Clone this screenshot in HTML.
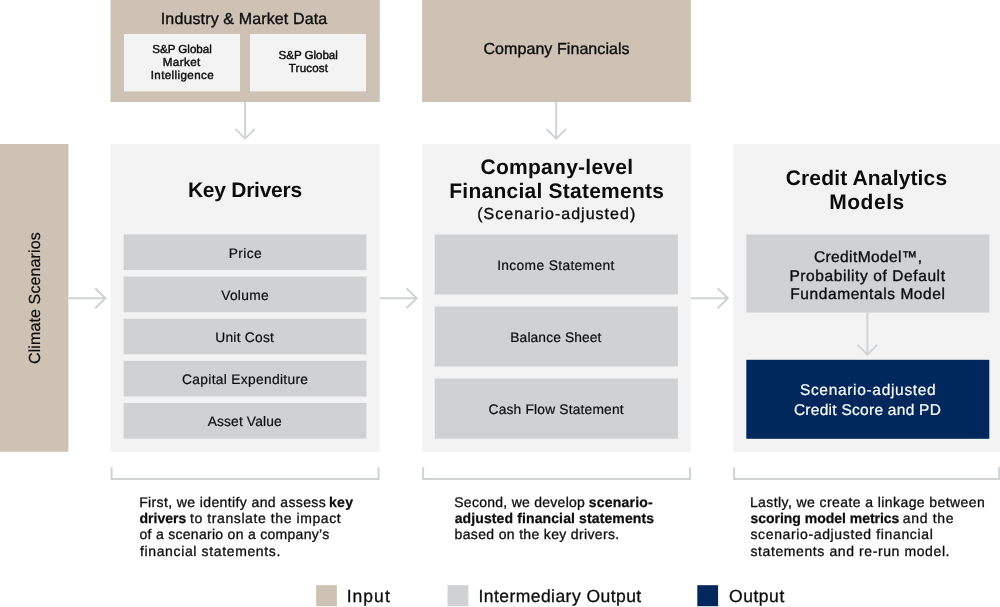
<!DOCTYPE html>
<html><head><meta charset="utf-8"><title>Climate Credit Analytics</title>
<style>
html,body{margin:0;padding:0;background:#fff;}
body{width:1000px;height:607px;position:relative;overflow:hidden;font-family:"Liberation Sans", sans-serif;color:#0c0c0c;}
.b{position:absolute;}
.t{position:absolute;white-space:nowrap;display:block;text-rendering:geometricPrecision;-webkit-text-stroke:0.3px currentColor;}
.lg{background:#f3f3f3;}
.mg{background:#d0d1d3;}
.nv{background:#00285c;}
svg{position:absolute;left:0;top:0;}
.tx{position:absolute;left:0;top:0;width:1000px;height:607px;will-change:transform;}
</style></head><body>
<svg width="1000" height="607" viewBox="0 0 1000 607" fill="none" stroke="#d0d3d6" stroke-width="2" stroke-linejoin="miter" stroke-linecap="butt">
<g stroke="none">
<rect x="0" y="144" width="68.4" height="307.8" fill="#cec2b5"/>
<rect x="110.5" y="0" width="269.3" height="102" fill="#cec2b5"/>
<rect x="124" y="34" width="116" height="57.4" fill="#f3f3f3"/>
<rect x="250" y="34" width="116" height="57.4" fill="#f3f3f3"/>
<rect x="422.1" y="0" width="268.8" height="102" fill="#cec2b5"/>
<rect x="110.5" y="144" width="269.3" height="307.8" fill="#f3f3f3"/>
<rect x="422.1" y="144" width="268.8" height="307.8" fill="#f3f3f3"/>
<rect x="733.1" y="144" width="266.9" height="307.8" fill="#f3f3f3"/>
<rect x="123.6" y="234.45" width="242.8" height="35.65" fill="#d0d1d3"/>
<rect x="123.6" y="276.58" width="242.8" height="35.65" fill="#d0d1d3"/>
<rect x="123.6" y="318.71" width="242.8" height="35.65" fill="#d0d1d3"/>
<rect x="123.6" y="360.84" width="242.8" height="35.65" fill="#d0d1d3"/>
<rect x="123.6" y="402.97" width="242.8" height="35.65" fill="#d0d1d3"/>
<rect x="434.8" y="234.5" width="243.1" height="60" fill="#d0d1d3"/>
<rect x="434.8" y="306.5" width="243.1" height="60" fill="#d0d1d3"/>
<rect x="434.8" y="378.5" width="243.1" height="60.2" fill="#d0d1d3"/>
<rect x="746.3" y="234.5" width="243" height="78.1" fill="#d0d1d3"/>
<rect x="746.3" y="359.8" width="243" height="79" fill="#00285c"/>
<rect x="316.1" y="585.2" width="20.8" height="21" fill="#cec2b5"/>
<rect x="447.5" y="585.2" width="20.9" height="21" fill="#d0d1d3"/>
<rect x="697.3" y="585.2" width="20.8" height="21" fill="#00285c"/>
</g>
<path d="M245.1 102V138.6M235.3 128.9L245.1 138.65L254.9 128.9"/>
<path d="M556.2 102V138.6M546.4 128.9L556.2 138.65L566 128.9"/>
<path d="M867.4 312.6V354.6M857.5 344.6L867.4 354.7L877.3 344.6" stroke="#d3d5d8"/>
<path d="M68.4 298.2H105.3M95.2 288.2L105.4 298.2L95.2 308.2"/>
<path d="M379.8 298.2H416.6M406.5 288.2L416.7 298.2L406.5 308.2"/>
<path d="M690.9 298.2H727.8M717.7 288.2L727.9 298.2L717.7 308.2"/>
<path d="M111.6 467.2V479.1H378.6V467.2"/>
<path d="M423.1 467.2V479.1H689.9V467.2"/>
<path d="M734.1 467.2V479.1H999.2V467.2"/>
</svg>
<div class="tx">
<span class="t" style="left:160.78px;top:12.00px;font-size:16px;line-height:16px;letter-spacing:0.136px;-webkit-text-stroke-width:0.35px;">Industry &amp; Market Data</span>
<span class="t" style="left:152.22px;top:44.00px;font-size:11.6px;line-height:11.6px;letter-spacing:-0.016px;-webkit-text-stroke-width:0.42px;">S&amp;P Global</span>
<span class="t" style="left:162.79px;top:57.00px;font-size:11.6px;line-height:11.6px;letter-spacing:0.421px;-webkit-text-stroke-width:0.42px;">Market</span>
<span class="t" style="left:150.72px;top:70.00px;font-size:11.6px;line-height:11.6px;letter-spacing:0.388px;-webkit-text-stroke-width:0.42px;">Intelligence</span>
<span class="t" style="left:278.62px;top:50.00px;font-size:11.6px;line-height:11.6px;letter-spacing:-0.062px;-webkit-text-stroke-width:0.42px;">S&amp;P Global</span>
<span class="t" style="left:288.79px;top:63.00px;font-size:11.6px;line-height:11.6px;letter-spacing:0.168px;-webkit-text-stroke-width:0.42px;">Trucost</span>
<span class="t" style="left:483.44px;top:42.00px;font-size:16px;line-height:16px;letter-spacing:0.072px;-webkit-text-stroke-width:0.35px;">Company Financials</span>
<span class="t" style="left:187.95px;top:180.00px;font-size:21px;line-height:21px;letter-spacing:-0.257px;font-weight:700;-webkit-text-stroke-width:0px;">Key Drivers</span>
<span class="t" style="left:228.64px;top:247.00px;font-size:13.8px;line-height:13.8px;letter-spacing:0.431px;-webkit-text-stroke-width:0.2px;">Price</span>
<span class="t" style="left:221.15px;top:289.00px;font-size:13.8px;line-height:13.8px;letter-spacing:0.294px;-webkit-text-stroke-width:0.2px;">Volume</span>
<span class="t" style="left:215.25px;top:331.00px;font-size:13.8px;line-height:13.8px;letter-spacing:0.238px;-webkit-text-stroke-width:0.2px;">Unit Cost</span>
<span class="t" style="left:182.00px;top:373.00px;font-size:13.8px;line-height:13.8px;letter-spacing:0.313px;-webkit-text-stroke-width:0.2px;">Capital Expenditure</span>
<span class="t" style="left:207.71px;top:415.00px;font-size:13.8px;line-height:13.8px;letter-spacing:0.132px;-webkit-text-stroke-width:0.2px;">Asset Value</span>
<span class="t" style="left:480.57px;top:157.00px;font-size:21px;line-height:21px;letter-spacing:0.262px;font-weight:700;-webkit-text-stroke-width:0px;">Company-level</span>
<span class="t" style="left:449.31px;top:181.00px;font-size:21px;line-height:21px;letter-spacing:0.240px;font-weight:700;-webkit-text-stroke-width:0px;">Financial Statements</span>
<span class="t" style="left:477.23px;top:207.00px;font-size:16px;line-height:16px;letter-spacing:1.020px;-webkit-text-stroke-width:0.35px;">(Scenario-adjusted)</span>
<span class="t" style="left:497.13px;top:259.00px;font-size:13.8px;line-height:13.8px;letter-spacing:0.349px;-webkit-text-stroke-width:0.2px;">Income Statement</span>
<span class="t" style="left:510.29px;top:331.00px;font-size:13.8px;line-height:13.8px;letter-spacing:0.116px;-webkit-text-stroke-width:0.2px;">Balance Sheet</span>
<span class="t" style="left:488.55px;top:403.00px;font-size:13.8px;line-height:13.8px;letter-spacing:0.176px;-webkit-text-stroke-width:0.2px;">Cash Flow Statement</span>
<span class="t" style="left:785.73px;top:168.00px;font-size:21px;line-height:21px;letter-spacing:0.153px;font-weight:700;-webkit-text-stroke-width:0px;">Credit Analytics</span>
<span class="t" style="left:829.18px;top:192.00px;font-size:21px;line-height:21px;letter-spacing:0.548px;font-weight:700;-webkit-text-stroke-width:0px;">Models</span>
<span class="t" style="left:813.98px;top:250.00px;font-size:15.5px;line-height:15.5px;letter-spacing:0.389px;-webkit-text-stroke-width:0.35px;">CreditModel™,</span>
<span class="t" style="left:789.42px;top:269.00px;font-size:15.5px;line-height:15.5px;letter-spacing:0.596px;-webkit-text-stroke-width:0.35px;">Probability of Default</span>
<span class="t" style="left:790.31px;top:287.00px;font-size:15.5px;line-height:15.5px;letter-spacing:0.581px;-webkit-text-stroke-width:0.35px;">Fundamentals Model</span>
<span class="t" style="left:799.93px;top:383.00px;font-size:15.5px;line-height:15.5px;letter-spacing:0.678px;color:#ffffff;-webkit-text-stroke-width:0.2px;">Scenario-adjusted</span>
<span class="t" style="left:793.90px;top:403.00px;font-size:15.5px;line-height:15.5px;letter-spacing:0.270px;color:#ffffff;-webkit-text-stroke-width:0.2px;">Credit Score and PD</span>
<span class="t" style="left:139.13px;top:495.00px;font-size:14px;line-height:14px;letter-spacing:0.385px;">First, we identify and assess</span>
<span class="t" style="left:328.98px;top:495.00px;font-size:14px;line-height:14px;letter-spacing:0.328px;font-weight:700;-webkit-text-stroke-width:0.25px;">key</span>
<span class="t" style="left:139.49px;top:511.00px;font-size:14px;line-height:14px;letter-spacing:0.010px;font-weight:700;-webkit-text-stroke-width:0.25px;">drivers</span>
<span class="t" style="left:190.01px;top:511.00px;font-size:14px;line-height:14px;letter-spacing:0.588px;">to translate the impact</span>
<span class="t" style="left:139.53px;top:527.00px;font-size:14px;line-height:14px;letter-spacing:0.290px;">of a scenario on a company’s</span>
<span class="t" style="left:140.01px;top:544.00px;font-size:14px;line-height:14px;letter-spacing:0.636px;">financial statements.</span>
<span class="t" style="left:454.28px;top:495.00px;font-size:14px;line-height:14px;letter-spacing:0.265px;">Second, we develop</span>
<span class="t" style="left:588.79px;top:495.00px;font-size:14px;line-height:14px;letter-spacing:0.219px;font-weight:700;-webkit-text-stroke-width:0.25px;">scenario-</span>
<span class="t" style="left:454.66px;top:511.00px;font-size:14px;line-height:14px;letter-spacing:0.119px;font-weight:700;-webkit-text-stroke-width:0.25px;">adjusted financial statements</span>
<span class="t" style="left:454.60px;top:527.00px;font-size:14px;line-height:14px;letter-spacing:0.338px;">based on the key drivers.</span>
<span class="t" style="left:749.90px;top:495.00px;font-size:14px;line-height:14px;letter-spacing:0.415px;">Lastly, we create a linkage between</span>
<span class="t" style="left:750.49px;top:511.00px;font-size:14px;line-height:14px;letter-spacing:-0.023px;font-weight:700;-webkit-text-stroke-width:0.25px;">scoring model metrics</span>
<span class="t" style="left:902.80px;top:511.00px;font-size:14px;line-height:14px;letter-spacing:0.658px;">and the</span>
<span class="t" style="left:750.48px;top:527.00px;font-size:14px;line-height:14px;letter-spacing:0.635px;">scenario-adjusted financial</span>
<span class="t" style="left:750.48px;top:544.00px;font-size:14px;line-height:14px;letter-spacing:0.598px;">statements and re-run model.</span>
<span class="t" style="left:346.65px;top:588.00px;font-size:17.5px;line-height:17.5px;letter-spacing:1.051px;">Input</span>
<span class="t" style="left:478.40px;top:588.00px;font-size:17.5px;line-height:17.5px;letter-spacing:0.455px;">Intermediary Output</span>
<span class="t" style="left:728.98px;top:588.00px;font-size:17.5px;line-height:17.5px;letter-spacing:0.548px;">Output</span>
<span class="t" style="-webkit-text-stroke-width:0.2px;left:27.60px;top:363.80px;font-size:16px;line-height:16px;letter-spacing:0.117px;transform-origin:0 0;transform:rotate(-90deg);">Climate Scenarios</span>
</div>
</body></html>
